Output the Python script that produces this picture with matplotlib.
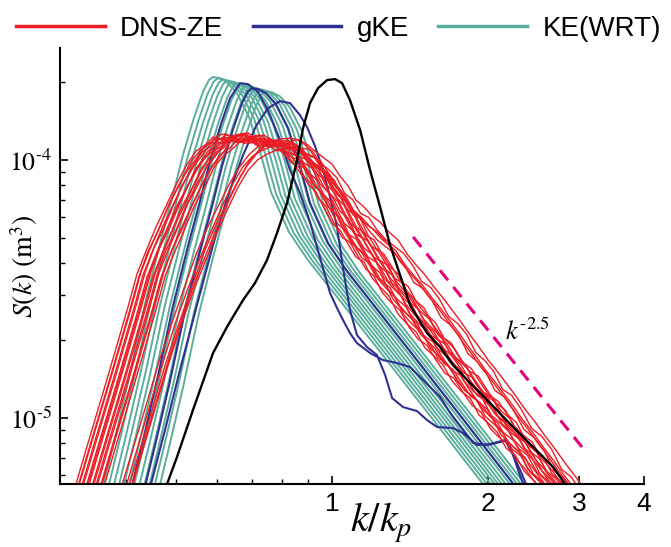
import numpy as np
import matplotlib
matplotlib.use("Agg")
import matplotlib.pyplot as plt
from matplotlib.lines import Line2D
from matplotlib.ticker import FixedLocator, FixedFormatter, NullFormatter

plt.rcParams["mathtext.fontset"] = "stix"
plt.rcParams["font.family"] = ["Liberation Sans", "DejaVu Sans"]

RED = "#ED1C24"
NAVY = "#2E3192"
TEAL = "#5AAE9B"
PINK = "#E6007E"

# ---------------- data ----------------
# initial spectrum
init_k = [0.470, 0.4803, 0.5020, 0.5390, 0.5892, 0.6298, 0.6734, 0.7100, 0.7489, 0.7830,
          0.8187, 0.8558, 0.8790, 0.9068, 0.9397, 0.9780, 1.0134, 1.0455, 1.083, 1.133,
          1.184, 1.238, 1.294, 1.353, 1.414, 1.525, 1.617, 1.712, 1.847, 1.992,
          2.236, 2.443, 2.671, 2.817, 2.950]
init_S = [5.0e-6, 5.55e-6, 7.06e-6, 1.074e-5, 1.786e-5, 2.293e-5, 2.867e-5, 3.337e-5, 4.097e-5, 5.213e-5,
          6.813e-5, 1.0e-4, 1.330e-4, 1.664e-4, 1.901e-4, 2.042e-4, 2.061e-4, 1.988e-4, 1.708e-4, 1.307e-4,
          9.148e-5, 6.575e-5, 4.683e-5, 3.582e-5, 2.742e-5, 2.135e-5, 1.884e-5, 1.604e-5, 1.367e-5, 1.174e-5,
          9.23e-6, 7.72e-6, 6.46e-6, 5.55e-6, 4.9e-6]

# KE(WRT): spectral shape relative to its peak, and peak of each output time
wrt_shape_k = [0.5918, 0.616, 0.6527, 0.6944, 0.7424, 0.7938, 0.8372, 0.8751, 0.9190, 0.9565,
               0.9824, 1.0, 1.027, 1.064, 1.112, 1.174, 1.238, 1.294, 1.402, 1.525,
               1.767, 2.110, 2.520, 2.880, 3.320, 3.795]
wrt_shape_S = [0.01884, 0.02646, 0.04283, 0.07316, 0.1367, 0.2334, 0.3488, 0.4984, 0.6937, 0.8746,
               0.9736, 1.0, 0.9911, 0.9563, 0.8670, 0.6998, 0.4984, 0.3582, 0.2507, 0.1953,
               0.1342, 0.0852, 0.0540, 0.0382, 0.02646, 0.01884]
wrt_peak_k = [0.589, 0.602, 0.615, 0.628, 0.641, 0.655, 0.669, 0.684, 0.698, 0.713, 0.729, 0.745]
wrt_peak_S = [2.10e-4, 2.075e-4, 2.05e-4, 2.03e-4, 2.005e-4, 1.98e-4, 1.96e-4, 1.94e-4,
              1.915e-4, 1.895e-4, 1.87e-4, 1.85e-4]

# gKE
gke_peak_k = [0.7008]
gke_peak_S = [1.90e-4]
gke_k_1 = [0.4093, 0.4336, 0.4613, 0.4932, 0.5272, 0.5562, 0.5813, 0.6105, 0.6355, 0.6644,
           0.6884, 0.7198, 0.7522, 0.7937, 0.8297, 0.8672, 0.9068, 0.9355, 0.9651, 0.9911,
           1.0225, 1.050, 1.083, 1.117, 1.184, 1.254, 1.335, 1.414, 1.479, 1.546,
           1.617, 1.667, 1.712, 1.790, 1.872, 1.992, 2.110, 2.177, 2.236, 2.286, 2.338, 2.379]
gke_S_1 = [0.526e-5, 0.8515e-5, 1.455e-5, 2.717e-5, 4.642e-5, 6.936e-5, 9.911e-5, 13.79e-5, 17.39e-5, 19.88e-5,
           19.70e-5, 18.35e-5, 15.62e-5, 11.953e-5, 9.146e-5, 7.449e-5, 5.750e-5, 4.600e-5, 3.682e-5, 3.052e-5,
           2.669e-5, 2.398e-5, 2.136e-5, 1.953e-5, 1.787e-5, 1.678e-5, 1.634e-5, 1.576e-5, 1.442e-5, 1.319e-5,
           1.206e-5, 1.093e-5, 1.009e-5, 0.8984e-5, 0.8000e-5, 0.7858e-5, 0.8072e-5, 0.8217e-5, 0.7188e-5,
           0.6287e-5, 0.5549e-5, 0.5030e-5]
gke_k_2 = [0.4473, 0.4760, 0.5087, 0.5486, 0.5892, 0.6298, 0.6734, 0.7131, 0.7522, 0.7937,
           0.8297, 0.8672, 0.8950, 0.9272, 0.9608, 0.9911, 1.0225, 1.050, 1.083, 1.117,
           1.168, 1.221, 1.266, 1.306, 1.371, 1.459, 1.525, 1.595, 1.712, 1.790,
           1.905, 2.018, 2.158, 2.236, 2.307, 2.368, 2.411]
gke_S_2 = [0.5549e-5, 0.8984e-5, 1.535e-5, 2.742e-5, 4.683e-5, 7.317e-5, 10.457e-5, 13.54e-5, 15.90e-5, 16.93e-5,
           16.63e-5, 14.94e-5, 13.42e-5, 11.329e-5, 9.146e-5, 7.187e-5, 5.499e-5, 3.815e-5, 2.622e-5, 2.098e-5,
           1.884e-5, 1.755e-5, 1.468e-5, 1.195e-5, 1.103e-5, 1.064e-5, 0.9822e-5, 0.9227e-5, 0.9145e-5, 0.8747e-5,
           0.7858e-5, 0.7929e-5, 0.8217e-5, 0.7188e-5, 0.6287e-5, 0.5549e-5, 0.5030e-5]

# DNS-ZE, later times (units of 1e-5 m^3)
dns_k = [0.3205, 0.3350, 0.3518, 0.3694, 0.3880, 0.4038, 0.4203, 0.4375, 0.4573, 0.4781,
         0.4997, 0.5224, 0.5462, 0.5686, 0.5892, 0.6078, 0.6270, 0.6468, 0.6703, 0.6946,
         0.7198, 0.7458, 0.7727, 0.8043, 0.8372, 0.8672, 0.8989, 0.9314, 0.9651, 1.0,
         1.036, 1.074, 1.112, 1.153, 1.195, 1.238, 1.288, 1.341, 1.396, 1.453,
         1.512, 1.574, 1.638, 1.705, 1.774, 1.847, 1.922, 2.001, 2.082, 2.167,
         2.256, 2.348, 2.466, 2.578]
dns_S_a = [0.5549, 0.7516, 1.0456, 1.4549, 2.0427, 2.6933, 3.6165, 4.4392, 5.4993, 6.633,
           8.001, 9.478, 10.837, 11.431, 12.278, 12.061, 12.611, 11.953, 12.169, 11.637,
           11.953, 11.329, 11.534, 10.645, 9.736, 9.311, 8.072, 7.516, 6.516, 5.699,
           5.355, 4.725, 4.208, 4.024, 3.490, 3.219, 2.971, 2.530, 2.314, 2.155,
           1.868, 1.739, 1.605, 1.392, 1.273, 1.195, 1.027, 0.9562, 0.8825, 0.7651,
           0.7188, 0.6231, 0.5649, 0.5030]
dns_S_b = [0.5549, 0.7516, 1.0456, 1.4549, 2.0427, 2.6933, 3.6165, 4.519, 5.402, 6.692,
           8.072, 9.394, 10.551, 11.847, 11.953, 11.847, 12.388, 12.499, 11.847, 11.953,
           11.431, 11.741, 11.129, 11.030, 9.823, 8.904, 8.366, 7.252, 6.752, 5.802,
           5.121, 4.897, 4.322, 3.849, 3.6165, 3.135, 2.867, 2.669, 2.293, 2.061,
           1.953, 1.709, 1.521, 1.4549, 1.284, 1.143, 1.074, 0.9310, 0.8592, 0.8072,
           0.6998, 0.6400, 0.5599, 0.5030]
dns_S_c = [0.5549, 0.7516, 1.0456, 1.4549, 2.0427, 2.6933, 3.6165, 4.4392, 5.450, 6.752,
           7.930, 9.563, 10.645, 11.329, 12.169, 12.388, 12.061, 12.169, 12.388, 11.741,
           11.637, 11.847, 10.934, 10.551, 10.180, 9.146, 8.001, 7.383, 6.458, 6.066,
           5.213, 4.642, 4.400, 3.918, 3.459, 3.307, 2.841, 2.576, 2.398, 2.080,
           1.918, 1.678, 1.590, 1.404, 1.250, 1.185, 1.055, 0.9822, 0.8440, 0.7788,
           0.7252, 0.6176, 0.5700, 0.5030]
dns_variant = ["a", "b", "c", "a", "b", "c", "a", "b", "c", "a", "b", "c", "a", "b", "c"]
dns_scale_k = [1.000, 1.009, 1.018, 1.027, 1.036, 1.045, 1.055, 1.064, 1.074, 1.083,
               1.093, 1.103, 1.113, 1.123, 1.133]
dns_scale_S = [1.00, 0.98, 1.02, 0.99, 1.01, 0.97, 1.00, 1.02, 0.98, 1.00,
               0.99, 1.01, 0.97, 1.00, 0.98]

# DNS-ZE, early times (units of 1e-5 m^3)
dns_early_k = [0.4111, 0.4355, 0.4613, 0.4866, 0.5157, 0.5438, 0.5737, 0.6024, 0.6355, 0.6644,
               0.6946, 0.7262, 0.7592, 0.7937, 0.8297, 0.8672, 0.8989, 0.9314, 0.9651, 1.0,
               1.036, 1.074, 1.112, 1.153, 1.195, 1.238, 1.288, 1.341, 1.396, 1.453,
               1.512, 1.574, 1.638, 1.705, 1.774, 1.847, 1.922, 2.001, 2.082, 2.167,
               2.256, 2.348, 2.466, 2.578, 2.695, 2.817, 2.945, 3.079]
dns_S_d = [0.5549, 0.8217, 1.217, 1.739, 2.508, 3.366, 4.400, 5.598, 7.124, 8.592,
           10.000, 11.030, 11.637, 12.061, 12.169, 11.953, 11.431, 10.741, 10.180, 9.649,
           8.669, 7.930, 6.998, 6.574, 6.066, 5.750, 5.260, 4.897, 4.322, 3.918,
           3.584, 3.219, 2.919, 2.622, 2.356, 2.098, 1.884, 1.678, 1.521, 1.367,
           1.228, 1.093, 0.9648, 0.8515, 0.7583, 0.6692, 0.5959, 0.5260]
dns_S_e = [0.5549, 0.8144, 1.195, 1.724, 2.441, 3.307, 4.479, 5.649, 6.998, 8.366,
           9.736, 10.934, 11.847, 12.278, 11.953, 12.388, 11.847, 11.129, 10.000, 9.478,
           8.825, 7.651, 7.252, 6.400, 6.176, 5.549, 5.076, 4.768, 4.479, 4.024,
           3.490, 3.307, 2.971, 2.553, 2.398, 2.174, 1.851, 1.724, 1.562, 1.331,
           1.261, 1.123, 0.9393, 0.8747, 0.7788, 0.6515, 0.6066, 0.5260]
dns_early_variant = ["d", "e", "d", "e", "d"]
dns_early_scale_k = [1.000, 0.985, 0.968, 0.952, 0.990]
dns_early_scale_S = [1.00, 0.97, 0.94, 0.96, 0.91]

# reference power law
ref_k = [1.434, 3.093]
ref_exponent = -2.5
ref_coef = 1.24e-4

# ---------------- figure ----------------
fig = plt.figure(figsize=(6.71, 5.47), dpi=100)
ax = fig.add_axes([60 / 671, 63 / 547, 584 / 671, 436 / 547])
ax.set_xscale("log")
ax.set_yscale("log")

shape_k = np.array(wrt_shape_k)
shape_S = np.array(wrt_shape_S)
for kp, sp in zip(wrt_peak_k, wrt_peak_S):
    ax.plot(shape_k * kp, shape_S * sp, color=TEAL, lw=1.4, solid_joinstyle="round")

for kp, sp in zip(gke_peak_k, gke_peak_S):
    ax.plot(shape_k * kp, shape_S * sp, color=NAVY, lw=1.5, solid_joinstyle="round")
ax.plot(gke_k_1, gke_S_1, color=NAVY, lw=1.5, solid_joinstyle="round")
ax.plot(gke_k_2, gke_S_2, color=NAVY, lw=1.5, solid_joinstyle="round")

late = {"a": dns_S_a, "b": dns_S_b, "c": dns_S_c}
for v, sk, ss in zip(dns_variant, dns_scale_k, dns_scale_S):
    ax.plot(np.array(dns_k) * sk, np.array(late[v]) * 1e-5 * ss, color=RED, lw=1.0)
early = {"d": dns_S_d, "e": dns_S_e}
for v, sk, ss in zip(dns_early_variant, dns_early_scale_k, dns_early_scale_S):
    ax.plot(np.array(dns_early_k) * sk, np.array(early[v]) * 1e-5 * ss, color=RED, lw=1.0)

ax.plot(init_k, init_S, color="black", lw=1.7)

rk = np.array(ref_k)
ax.plot(rk, ref_coef * rk ** ref_exponent, color=PINK, lw=2.2, dashes=(4.2, 2.8))
ax.text(2.16, 2.0e-5, r"$k^{\text{-}2.5}$", fontsize=19, ha="left", va="baseline")

ax.set_xlim(0.2985, 4.0)
ax.set_ylim(5.55e-6, 2.72e-4)

for side in ("top", "right"):
    ax.spines[side].set_visible(False)
for side in ("left", "bottom"):
    ax.spines[side].set_linewidth(1.5)

ax.xaxis.set_major_locator(FixedLocator([1, 2, 3, 4]))
ax.xaxis.set_major_formatter(FixedFormatter(["1", "2", "3", "4"]))
ax.xaxis.set_minor_locator(FixedLocator([0.4, 0.5, 0.6, 0.7, 0.8, 0.9]))
ax.xaxis.set_minor_formatter(NullFormatter())
ax.yaxis.set_major_locator(FixedLocator([1e-5, 1e-4]))
ax.yaxis.set_major_formatter(FixedFormatter([r"$10^{\text{-}5}$", r"$10^{\text{-}4}$"]))
ax.yaxis.set_minor_locator(FixedLocator([6e-6, 7e-6, 8e-6, 9e-6, 2e-5, 3e-5, 4e-5, 5e-5,
                                         6e-5, 7e-5, 8e-5, 9e-5, 2e-4]))
ax.yaxis.set_minor_formatter(NullFormatter())

ax.tick_params(which="major", direction="in", length=6, width=1.2)
ax.tick_params(which="minor", direction="in", length=3.5, width=1.0)
ax.tick_params(axis="x", which="major", labelsize=19, pad=6)
ax.tick_params(axis="y", which="major", labelsize=18.5, pad=6)

ax.set_xlabel(r"$k/k_p$", fontsize=29)
ax.xaxis.set_label_coords(0.55, -0.038)
ax.set_ylabel(r"$S(k)\ (\mathrm{m}^3)$", fontsize=20)
ax.yaxis.set_label_coords(-0.035, 0.5)

handles = [Line2D([], [], color=RED, lw=2.5),
           Line2D([], [], color=NAVY, lw=2.5),
           Line2D([], [], color=TEAL, lw=2.5)]
fig.legend(handles, ["DNS-ZE", "gKE", "KE(WRT)"], ncol=3, loc="center left",
           bbox_to_anchor=(16 / 671, 1 - 29 / 547), frameon=False, fontsize=20,
           handlelength=3.2, handletextpad=0.55, columnspacing=1.05,
           borderpad=0, borderaxespad=0)

fig.savefig("out.png", dpi=100)
